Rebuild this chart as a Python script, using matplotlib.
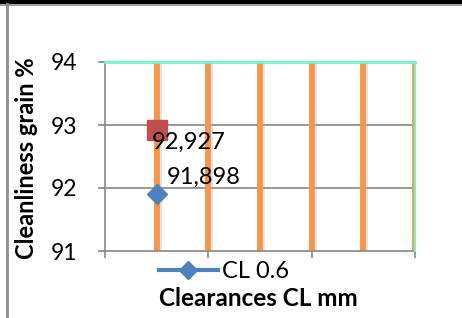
import matplotlib
matplotlib.use("Agg")
import matplotlib.pyplot as plt
from matplotlib.lines import Line2D
import matplotlib.patheffects as pe

plt.rcParams['font.family'] = ['Lato', 'DejaVu Sans']

# data
series_name = "CL 0.6"
point_x = [0.5]
diamond_vals = [91.898]
square_vals = [92.927]
diamond_labels = ["91,898"]
square_labels = ["92,927"]
drop_x = [0.5, 1.0, 1.5, 2.0, 2.5, 3.0]
y_ticks = [91, 92, 93, 94]
x_ticks = [0, 1, 2, 3]

W, H = 462, 318
fig = plt.figure(figsize=(W / 100, H / 100), dpi=100)
fig.patch.set_facecolor('white')

# frame decorations: black band on top and grey line on left
fig.add_artist(plt.Rectangle((0, 1 - 4 / H), 1, 4 / H, transform=fig.transFigure,
                             color='black', lw=0))
fig.add_artist(Line2D([0, 1], [1 - 4.5 / H, 1 - 4.5 / H], transform=fig.transFigure,
                      color='#8c8c8c', lw=1.2))
fig.add_artist(Line2D([7 / W, 7 / W], [0, 1 - 4 / H], transform=fig.transFigure,
                      color='#8c8c8c', lw=2))

ax = fig.add_axes([105 / W, 1 - 251 / H, (415 - 105) / W, (251 - 62) / H])
ax.set_xlim(0, 3)
ax.set_ylim(91, 94)

for s in ['top', 'right']:
    ax.spines[s].set_visible(False)
for s in ['left', 'bottom']:
    ax.spines[s].set_color('#868686')
    ax.spines[s].set_linewidth(1.2)

ax.set_yticks(y_ticks)
ax.set_yticklabels([str(v) for v in y_ticks], fontsize=16.5)
ax.set_xticks(x_ticks)
ax.set_xticklabels([])
ax.tick_params(axis='both', color='#868686', length=5, width=1.2)
ax.tick_params(axis='y', pad=15)

for v in y_ticks[1:3]:
    ax.axhline(v, color='#868686', lw=1.2, zorder=1)

# orange vertical lines
shadow = [pe.SimpleLineShadow(offset=(1.5, -1.5), shadow_color='#aaaaaa', alpha=0.35),
          pe.Normal()]
for x in drop_x:
    ax.plot([x, x], [91, 94], color='#F79646', lw=4.2, zorder=2,
            solid_capstyle='butt', path_effects=shadow)

# teal top and right edge
ax.plot([0, 3], [94, 94], color='#6EF5C8', lw=2, zorder=3, clip_on=False)
ax.plot([3, 3], [91, 94], color='#6EF5C8', lw=1.5, zorder=3, clip_on=False)

ax.plot(point_x, square_vals, marker='s', ms=14, color='#C0504D', ls='none', zorder=4,
        markeredgecolor='#C0504D')
ax.plot(point_x, diamond_vals, marker='D', ms=10, color='#4F81BD', ls='none', zorder=4,
        markeredgecolor='#4F81BD')

ax.annotate(square_labels[0], (point_x[0], square_vals[0]), xytext=(-5, -13),
            textcoords='offset pixels', fontsize=17, ha='left', va='center', zorder=5)
ax.annotate(diamond_labels[0], (point_x[0], diamond_vals[0]), xytext=(10, 17),
            textcoords='offset pixels', fontsize=17, ha='left', va='center', zorder=5)

# legend
handle = Line2D([], [], color='#4F81BD', lw=3, marker='D', ms=9)
fig.legend([handle], [series_name], loc='center', bbox_to_anchor=(224 / W, 1 - 272 / H),
           frameon=False, fontsize=17, handlelength=2.5, handletextpad=0.2,
           borderpad=0, borderaxespad=0)

fig.text(258 / W, 1 - 298 / H, "Clearances CL mm", ha='center', va='center',
         fontsize=17.5, fontweight='bold')
fig.text(27 / W, 1 - 158 / H, "Cleanliness grain %", ha='center', va='center',
         rotation=90, fontsize=17, fontweight='bold')

fig.savefig('out.png', dpi=100, facecolor='white')
